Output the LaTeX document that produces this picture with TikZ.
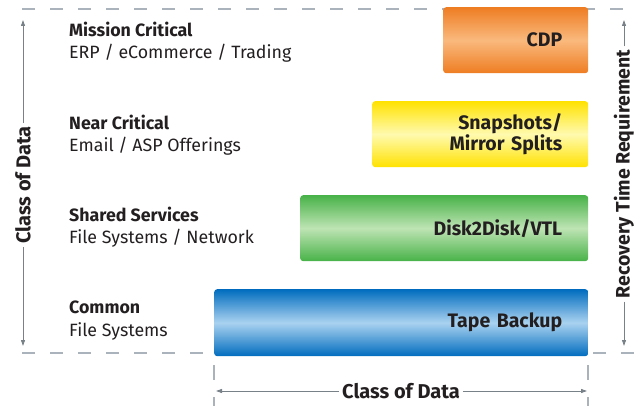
\documentclass[tikz,border=0pt]{standalone}
\usepackage{fontspec}
\setmainfont{Fira Sans}
\usetikzlibrary{arrows.meta}
\definecolor{dashgray}{RGB}{170,178,188}
\definecolor{axisgray}{RGB}{120,128,136}
\definecolor{txt}{RGB}{35,31,32}
\definecolor{orA}{RGB}{238,125,35}
\definecolor{orB}{RGB}{250,185,125}
\definecolor{yeA}{RGB}{255,226,0}
\definecolor{yeB}{RGB}{255,250,175}
\definecolor{grA}{RGB}{72,178,72}
\definecolor{grB}{RGB}{190,228,180}
\definecolor{blA}{RGB}{0,108,190}
\definecolor{blB}{RGB}{170,210,240}
\tikzset{
  dline/.style={draw=dashgray, line width=1.1pt, dash pattern=on 13pt off 15pt},
  axis/.style={draw=axisgray, line width=0.9pt},
  tipped/.style={axis, -{Triangle[length=6pt,width=4pt]}},
  bar/.style={rounded corners=3pt, anchor=north west, inner xsep=26pt, inner ysep=0pt,
     align=right, font=\fontsize{19.5}{21.5}\selectfont\bfseries, text=txt},
  title/.style={anchor=base west, inner sep=0pt, font=\fontsize{17.8}{19}\selectfont\bfseries, text=txt},
  sub/.style={anchor=base west, inner sep=0pt, font=\fontsize{17.8}{19}\selectfont, text=txt},
  axlabel/.style={inner sep=3pt, font=\fontsize{20}{22}\selectfont\bfseries, text=txt}
}
\begin{document}
\begin{tikzpicture}[x=1pt,y=-1pt]
\useasboundingbox (0,0) rectangle (635,406);
% dashed guide lines
\coordinate (tl) at (22,9);   \coordinate (tr) at (635,9);
\coordinate (bl) at (22,353); \coordinate (bm) at (213,353);
\coordinate (br1) at (593,353); \coordinate (br2) at (635,353);
\coordinate (vl1) at (214,365); \coordinate (vl2) at (214,406);
\coordinate (vr1) at (588,365); \coordinate (vr2) at (588,406);
\draw[dline] (tl) -- (tr);
\draw[dline] (bl) -- (bm);
\draw[dline] (br1) -- (br2);
\draw[dline, dash pattern=on 15pt off 17pt] (vl1) -- (vl2);
\draw[dline, dash pattern=on 15pt off 17pt] (vr1) -- (vr2);
% bars
\node[bar, minimum width=145pt, minimum height=66pt, text width=93pt,
  top color=orA, bottom color=orA, middle color=orB] (cdp) at (443,7) {CDP};
\node[bar, minimum width=216pt, minimum height=66pt, text width=164pt,
  top color=yeA, bottom color=yeA, middle color=yeB] (snap) at (372,101) {Snapshots/\\Mirror Splits};
\node[bar, minimum width=288pt, minimum height=66pt, text width=236pt,
  top color=grA, bottom color=grA, middle color=grB] (d2d) at (300,195) {Disk2Disk/VTL};
\node[bar, minimum width=374pt, minimum height=67pt, text width=322pt,
  top color=blA, bottom color=blA, middle color=blB] (tape) at (214,289) {Tape Backup};
% left labels
\node[title] (mc) at (69,37) {Mission Critical};
\node[sub] (mcs) at (69,59) {ERP / eCommerce / Trading};
\node[title] (nc) at (69,130) {Near Critical};
\node[sub] (ncs) at (69,152) {Email / ASP Offerings};
\node[title] (ss) at (69,222) {Shared Services};
\node[sub] (sss) at (69,244) {File Systems / Network};
\node[title] (co) at (69,314) {Common};
\node[sub] (cos) at (69,336) {File Systems};
% left axis
\node[axlabel, rotate=90] (lax) at (23,185) {Class of Data};
\coordinate (laxt) at (23,20); \coordinate (laxb) at (23,346);
\draw[tipped] (lax.east) -- (laxt);
\draw[tipped] (lax.west) -- (laxb);
% right axis
\node[axlabel, rotate=90, font=\fontsize{19.5}{21}\selectfont\bfseries] (rax) at (624,174) {Recovery Time Requirement};
\coordinate (raxt) at (624,20); \coordinate (raxb) at (624,346);
\draw[tipped] (rax.east) -- (raxt);
\draw[tipped] (rax.west) -- (raxb);
% bottom axis
\node[axlabel] (bax) at (401,391) {Class of Data};
\coordinate (baxl) at (216,391); \coordinate (baxr) at (587,391);
\draw[tipped] (bax.west) -- (baxl);
\draw[tipped] (bax.east) -- (baxr);
\end{tikzpicture}
\end{document}
